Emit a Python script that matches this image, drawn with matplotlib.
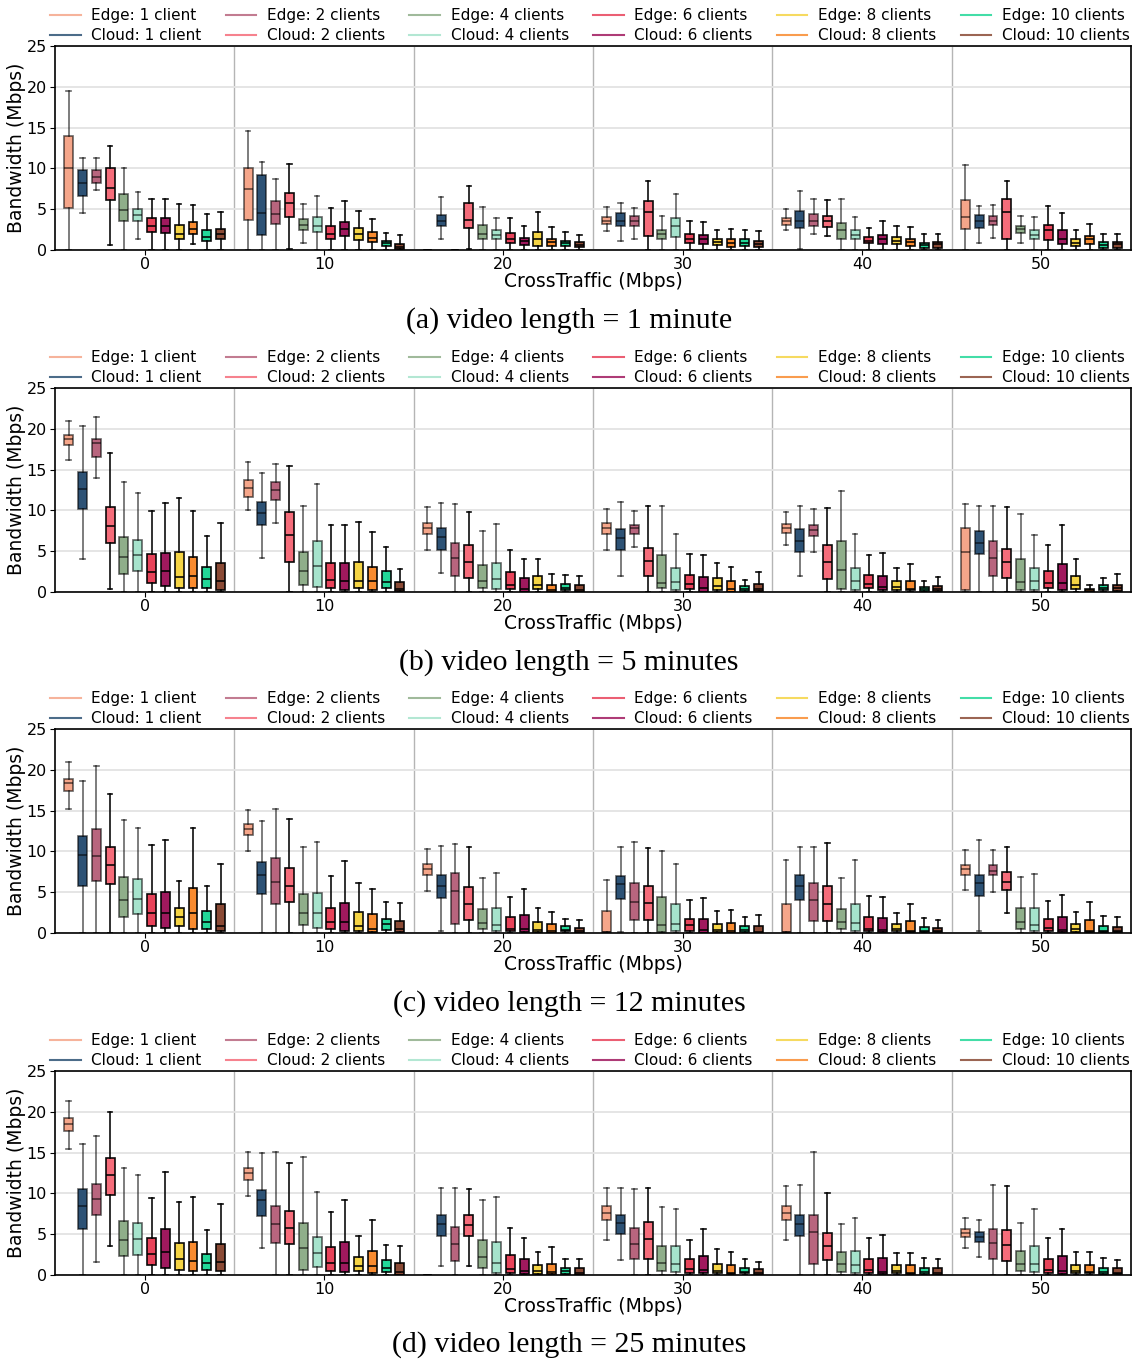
import matplotlib.pyplot as plt
from matplotlib.lines import Line2D
import numpy as np

# x categories and series
crosstraffic = [0, 10, 20, 30, 40, 50]
series = ["Edge: 1 client", "Cloud: 1 client", "Edge: 2 clients", "Cloud: 2 clients",
          "Edge: 4 clients", "Cloud: 4 clients", "Edge: 6 clients", "Cloud: 6 clients",
          "Edge: 8 clients", "Cloud: 8 clients", "Edge: 10 clients", "Cloud: 10 clients"]
colors = ["#F5A68A", "#2D5275", "#B8657E", "#F56C7A", "#8FAE8A", "#A6E3CC",
          "#E8435A", "#A0195E", "#F5D444", "#F98B2F", "#22D898", "#8A4A35"]
faded = [True, True, True, False, True, True, False, False, False, False, False, False]
captions = ["(a) video length = 1 minute", "(b) video length = 5 minutes",
            "(c) video length = 12 minutes", "(d) video length = 25 minutes"]

# box statistics: one row per cross-traffic level, one column per series
# (a) 1 minute
a_lo = [[0, 4.5, 7.3, 0.6, 0, 1.4, 0, 0, 0, 0.7, 0, 0],
        [0, 0, 0, 0.1, 0.8, 0, 0, 0, 0, 0, 0, 0],
        [0, 1.3, 0, 0.1, 0, 0, 0, 0, 0, 0, 0, 0],
        [2.3, 1.1, 1.4, 0, 0, 0, 0, 0, 0, 0, 0, 0],
        [2.4, 0.1, 2.0, 1.7, 0, 0, 0, 0, 0, 0, 0, 0],
        [0, 0.8, 1.5, 0, 0.9, 0, 0, 0, 0, 0, 0, 0]]
a_q1 = [[5.2, 6.6, 8.2, 6.1, 3.6, 3.6, 2.2, 2.1, 1.3, 1.9, 1.1, 1.3],
        [3.7, 1.8, 3.2, 4.1, 2.4, 2.2, 1.3, 1.7, 1.2, 1.0, 0.5, 0.1],
        [0, 2.9, 0, 2.7, 1.4, 1.4, 0.8, 0.6, 0.5, 0.5, 0.5, 0.4],
        [3.2, 2.9, 3.0, 1.7, 1.3, 1.6, 0.8, 0.7, 0.6, 0.4, 0.5, 0.4],
        [3.1, 2.7, 2.9, 2.8, 1.3, 1.3, 0.8, 0.7, 0.7, 0.5, 0.3, 0.3],
        [2.6, 2.7, 3.1, 1.3, 2.1, 1.3, 1.2, 0.7, 0.5, 0.7, 0.3, 0.3]]
a_med = [[10.0, 8.2, 9.0, 7.6, 4.9, 4.3, 2.9, 2.9, 2.0, 2.6, 1.6, 1.9],
         [7.5, 4.5, 4.4, 5.7, 3.1, 3.0, 1.9, 2.6, 1.9, 1.5, 0.8, 0.4],
         [0, 3.6, 0, 3.7, 2.0, 1.8, 1.3, 1.1, 1.3, 1.0, 0.8, 0.6],
         [3.6, 3.6, 3.6, 4.7, 1.9, 2.9, 1.3, 1.3, 1.0, 0.9, 0.9, 0.7],
         [3.6, 3.5, 3.6, 3.6, 2.4, 1.8, 1.1, 1.3, 1.1, 1.0, 0.6, 0.7],
         [4.1, 3.6, 3.6, 4.6, 2.6, 1.8, 2.4, 1.3, 0.9, 1.3, 0.6, 0.7]]
a_q3 = [[14.0, 9.8, 9.8, 10.1, 6.9, 5.0, 3.9, 3.9, 3.1, 3.4, 2.4, 2.6],
        [10.1, 9.2, 6.0, 7.0, 3.8, 4.0, 2.9, 3.4, 2.7, 2.2, 1.1, 0.7],
        [0, 4.3, 0, 5.8, 3.1, 2.4, 2.1, 1.5, 2.2, 1.4, 1.1, 1.0],
        [4.1, 4.5, 4.2, 6.0, 2.5, 3.9, 1.9, 1.8, 1.4, 1.3, 1.3, 1.1],
        [3.9, 4.8, 4.4, 4.2, 3.3, 2.5, 1.6, 1.8, 1.6, 1.4, 0.9, 1.0],
        [6.1, 4.3, 4.2, 6.2, 3.0, 2.4, 3.1, 2.4, 1.3, 1.7, 1.0, 1.0]]
a_hi = [[19.5, 11.3, 11.3, 12.8, 10.0, 7.1, 6.2, 6.3, 5.6, 5.5, 4.4, 4.6],
        [14.6, 10.8, 8.7, 10.6, 5.6, 6.6, 5.2, 6.0, 4.8, 3.8, 2.1, 1.8],
        [0, 6.5, 0, 7.9, 5.3, 3.9, 3.9, 2.9, 4.6, 2.8, 2.2, 1.8],
        [5.3, 5.7, 5.2, 8.4, 4.2, 6.9, 3.5, 3.4, 2.5, 2.6, 2.5, 2.3],
        [5.0, 7.2, 6.2, 6.1, 6.3, 4.0, 2.7, 3.5, 2.9, 2.8, 1.9, 2.0],
        [10.4, 5.4, 5.5, 8.4, 4.2, 4.0, 5.4, 4.5, 2.4, 3.2, 1.9, 2.0]]

# (b) 5 minutes
b_lo = [[16.2, 4.0, 14.0, 0.4, 0, 0, 0, 0, 0, 0, 0, 0],
        [10.0, 4.2, 8.5, 0, 0, 0, 0, 0, 0, 0, 0, 0],
        [5.2, 2.3, 0, 0, 0, 0, 0, 0, 0, 0, 0, 0],
        [5.2, 2.0, 5.5, 0, 0, 0, 0, 0, 0, 0, 0, 0],
        [5.8, 1.9, 4.9, 0, 0, 0, 0, 0, 0, 0, 0, 0],
        [0, 0, 0, 0, 0, 0, 0, 0, 0, 0, 0, 0]]
b_q1 = [[18.0, 10.2, 16.5, 6.0, 2.2, 2.6, 1.1, 0.7, 0.5, 0.5, 0.5, 0.3],
        [11.7, 8.2, 11.3, 3.7, 0.9, 0.6, 0.5, 0.3, 0.5, 0.3, 0.5, 0.1],
        [7.1, 5.1, 1.9, 1.7, 0.5, 0.4, 0.4, 0, 0.4, 0, 0.3, 0],
        [7.1, 5.2, 7.1, 1.9, 0.5, 0.2, 0.4, 0, 0.3, 0, 0.1, 0.1],
        [7.2, 4.9, 6.9, 1.6, 0.4, 0.3, 0.5, 0.2, 0.3, 0.2, 0.1, 0.1],
        [0.2, 4.6, 1.9, 1.7, 0.3, 0.3, 0.5, 0.2, 0.4, 0, 0.2, 0.1]]
b_med = [[18.7, 12.6, 18.2, 8.1, 4.3, 4.5, 2.5, 2.6, 1.8, 2.0, 1.6, 1.3],
         [12.7, 9.7, 12.5, 7.0, 2.6, 3.2, 1.5, 1.3, 1.4, 1.3, 1.2, 0.4],
         [7.8, 6.8, 4.2, 3.7, 1.3, 1.6, 0.8, 0.4, 0.8, 0.3, 0.5, 0.3],
         [7.8, 6.6, 7.8, 3.8, 1.1, 1.2, 1.0, 0.5, 0.7, 0.4, 0.4, 0.4],
         [7.8, 6.3, 7.6, 3.7, 2.7, 1.4, 1.0, 0.6, 0.6, 0.4, 0.4, 0.4],
         [4.9, 6.0, 4.2, 3.7, 1.2, 1.3, 1.1, 1.1, 0.8, 0.2, 0.5, 0.5]]
b_q3 = [[19.3, 14.7, 18.8, 10.4, 6.8, 6.4, 4.6, 4.8, 4.9, 4.3, 3.1, 3.6],
        [13.7, 11.0, 13.5, 9.8, 4.9, 6.2, 3.6, 3.5, 3.7, 3.1, 2.6, 1.2],
        [8.5, 7.8, 6.0, 5.7, 3.3, 3.6, 2.4, 1.7, 1.9, 0.9, 1.0, 0.8],
        [8.5, 7.7, 8.2, 5.4, 4.5, 3.0, 2.1, 1.8, 1.7, 1.3, 0.7, 1.0],
        [8.3, 7.7, 8.2, 5.7, 6.2, 3.0, 2.1, 1.9, 1.3, 1.4, 0.6, 0.7],
        [7.8, 7.5, 6.3, 5.3, 4.1, 3.0, 2.6, 3.4, 1.9, 0.4, 0.8, 0.9]]
b_hi = [[21.0, 20.4, 21.5, 17.0, 13.5, 12.1, 9.9, 10.9, 11.5, 9.9, 6.9, 8.4],
        [15.9, 14.6, 15.7, 15.4, 10.6, 13.2, 8.2, 8.2, 8.6, 7.3, 5.5, 2.8],
        [10.4, 10.9, 10.8, 9.8, 7.5, 8.3, 5.2, 4.1, 4.1, 2.2, 2.1, 1.9],
        [10.2, 11.0, 9.9, 10.5, 10.5, 7.1, 4.6, 4.5, 3.6, 3.1, 1.5, 2.5],
        [9.8, 10.6, 10.2, 10.3, 12.4, 7.1, 4.5, 4.8, 2.9, 3.4, 1.4, 1.8],
        [10.8, 10.5, 10.5, 10.4, 9.6, 7.0, 5.8, 8.2, 4.0, 0.9, 1.7, 2.2]]

# (c) 12 minutes
c_lo = [[15.2, 0, 0, 0, 0, 0, 0, 0, 0, 0, 0, 0],
        [10.1, 0, 0, 0, 0, 0, 0, 0, 0, 0, 0, 0],
        [5.2, 0.2, 0, 0, 0, 0, 0, 0, 0, 0, 0, 0],
        [0, 0.1, 0, 0, 0, 0, 0, 0, 0, 0, 0, 0],
        [0, 0, 0, 0, 0, 0, 0, 0, 0, 0, 0, 0],
        [5.3, 0.2, 5.0, 2.5, 0, 0, 0, 0, 0, 0, 0, 0]]
c_q1 = [[17.4, 5.8, 6.4, 6.0, 2.0, 2.3, 0.9, 0.6, 0.8, 0.5, 0.5, 0.2],
        [12.0, 4.8, 3.6, 3.8, 1.0, 0.6, 0.5, 0.3, 0.2, 0.1, 0.4, 0.1],
        [7.1, 4.3, 1.1, 1.6, 0.5, 0.3, 0.2, 0.1, 0.1, 0, 0.2, 0],
        [0.1, 4.2, 1.6, 1.6, 0.1, 0.3, 0.2, 0, 0.1, 0, 0.1, 0],
        [0.1, 4.0, 1.5, 1.5, 0.5, 0.2, 0.2, 0.1, 0.2, 0.1, 0.1, 0.1],
        [7.1, 4.5, 7.1, 5.3, 0.5, 0.2, 0.2, 0.1, 0.1, 0.1, 0.1, 0.1]]
c_med = [[18.4, 9.6, 9.4, 8.3, 4.0, 4.2, 2.4, 2.5, 1.9, 2.5, 1.3, 0.9],
         [12.7, 7.1, 6.3, 5.8, 2.5, 2.5, 1.4, 1.3, 0.8, 0.5, 1.1, 0.5],
         [7.8, 5.8, 5.1, 3.6, 1.2, 1.0, 0.5, 0.5, 0.4, 0.3, 0.4, 0.2],
         [0.1, 6.0, 3.8, 3.7, 1.0, 1.1, 1.0, 0.4, 0.4, 0.2, 0.4, 0.1],
         [0.1, 5.8, 4.0, 3.5, 1.3, 1.2, 0.5, 0.4, 0.5, 0.3, 0.3, 0.2],
         [7.8, 6.1, 7.6, 6.2, 1.3, 1.0, 0.6, 0.4, 0.5, 0.3, 0.2, 0.2]]
c_q3 = [[18.9, 11.9, 12.8, 10.5, 6.9, 6.6, 4.8, 5.0, 3.1, 5.5, 2.7, 3.5],
        [13.3, 8.7, 9.2, 8.0, 4.8, 4.9, 3.1, 3.7, 2.6, 2.3, 1.7, 1.5],
        [8.4, 7.1, 7.4, 5.6, 3.0, 3.1, 1.9, 2.2, 1.3, 1.1, 0.8, 0.6],
        [2.7, 7.0, 6.1, 5.8, 4.4, 3.6, 1.7, 1.7, 1.1, 1.2, 0.8, 0.9],
        [3.6, 7.1, 6.1, 5.7, 3.0, 3.6, 1.9, 1.8, 1.1, 1.5, 0.7, 0.6],
        [8.3, 7.1, 8.3, 7.5, 3.1, 3.1, 1.7, 1.9, 1.1, 1.6, 0.9, 0.7]]
c_hi = [[21.0, 18.6, 20.5, 17.0, 13.8, 12.9, 10.8, 11.4, 6.4, 12.9, 5.8, 8.4],
        [15.1, 13.7, 15.2, 14.0, 10.5, 11.1, 7.0, 8.8, 6.1, 5.4, 3.8, 3.7],
        [10.3, 10.7, 10.9, 10.5, 6.8, 7.3, 4.4, 5.4, 3.1, 2.6, 1.7, 1.6],
        [6.5, 10.5, 11.1, 10.4, 10.1, 8.4, 4.0, 4.3, 2.7, 2.8, 1.9, 2.2],
        [8.9, 10.6, 10.6, 11.0, 6.7, 8.9, 4.5, 4.4, 2.5, 3.6, 1.8, 1.6],
        [10.2, 11.4, 10.2, 10.6, 6.9, 7.2, 3.9, 4.6, 2.6, 3.8, 2.1, 1.9]]

# (d) 25 minutes
d_lo = [[15.4, 0, 1.6, 3.5, 0, 0, 0, 0, 0, 0, 0, 0],
        [9.7, 3.3, 0, 0, 0, 0, 0, 0, 0, 0, 0, 0],
        [0, 1.1, 0, 1.1, 0, 0, 0, 0, 0, 0, 0, 0],
        [4.3, 1.8, 0, 0, 0, 0, 0, 0, 0, 0, 0, 0],
        [4.3, 0, 0, 0, 0, 0, 0, 0, 0, 0, 0, 0],
        [3.3, 2.2, 0, 0, 0, 0, 0, 0, 0, 0, 0, 0]]
d_q1 = [[17.7, 5.6, 7.3, 9.8, 2.3, 2.5, 1.2, 0.9, 0.6, 0.5, 0.6, 0.5],
        [11.7, 7.2, 3.9, 3.8, 0.6, 1.0, 0.5, 0.4, 0.5, 0.3, 0.4, 0],
        [0, 4.8, 1.7, 4.8, 0.9, 0.3, 0.2, 0.1, 0.1, 0.1, 0.1, 0],
        [6.8, 5.0, 1.9, 1.9, 0.5, 0.4, 0.3, 0.2, 0.2, 0.1, 0.2, 0],
        [6.8, 4.8, 1.4, 1.8, 0.4, 0.3, 0.2, 0.1, 0.2, 0.1, 0.1, 0],
        [4.7, 4.0, 1.9, 1.7, 0.5, 0.4, 0.2, 0.1, 0.2, 0.2, 0.1, 0.1]]
d_med = [[18.5, 8.5, 9.3, 12.2, 4.3, 4.4, 2.6, 2.8, 2.0, 1.7, 1.5, 1.6],
         [12.5, 9.2, 6.2, 5.7, 3.3, 2.7, 1.5, 1.5, 1.1, 1.1, 0.8, 0.4],
         [0, 6.2, 3.8, 6.1, 2.2, 1.5, 0.7, 0.5, 0.5, 0.4, 0.5, 0.2],
         [7.6, 6.4, 3.8, 4.4, 1.5, 1.4, 0.7, 0.6, 0.5, 0.3, 0.4, 0.2],
         [7.6, 6.2, 5.3, 3.5, 1.3, 1.2, 0.6, 0.4, 0.5, 0.3, 0.4, 0.2],
         [5.2, 4.7, 3.9, 3.7, 1.4, 1.4, 0.6, 0.5, 0.5, 0.4, 0.4, 0.3]]
d_q3 = [[19.2, 10.6, 11.2, 14.3, 6.6, 6.4, 4.5, 5.6, 3.9, 4.1, 2.6, 3.8],
        [13.1, 10.4, 8.5, 7.8, 6.4, 4.7, 3.4, 4.0, 2.2, 2.9, 1.8, 1.5],
        [0, 7.4, 5.9, 7.4, 4.3, 4.0, 2.5, 1.9, 1.2, 1.4, 0.9, 0.8],
        [8.4, 7.4, 5.7, 6.5, 3.6, 3.5, 1.9, 2.3, 1.3, 1.2, 0.9, 0.7],
        [8.4, 7.4, 7.3, 5.1, 2.8, 3.0, 2.0, 2.1, 1.2, 1.2, 0.9, 0.8],
        [5.6, 5.3, 5.6, 5.5, 2.9, 3.5, 2.0, 2.3, 1.2, 1.2, 0.9, 0.8]]
d_hi = [[21.3, 16.1, 17.0, 20.0, 13.1, 12.2, 9.4, 12.6, 9.0, 9.5, 5.5, 8.7],
        [15.1, 14.9, 15.1, 13.7, 14.4, 10.2, 7.7, 9.2, 4.8, 6.7, 3.7, 3.6],
        [0, 10.7, 10.7, 10.5, 9.2, 9.5, 5.8, 4.5, 2.8, 3.4, 1.9, 1.9],
        [10.7, 10.7, 10.5, 10.7, 8.3, 8.1, 4.3, 5.6, 3.2, 2.8, 2.0, 1.6],
        [10.9, 11.0, 15.1, 10.0, 6.3, 7.0, 4.5, 4.9, 2.7, 2.7, 2.1, 2.0],
        [7.0, 6.8, 11.0, 10.9, 6.4, 8.1, 4.5, 5.6, 2.8, 2.8, 2.1, 1.8]]

panels = [(a_lo, a_q1, a_med, a_q3, a_hi),
          (b_lo, b_q1, b_med, b_q3, b_hi),
          (c_lo, c_q1, c_med, c_q3, c_hi),
          (d_lo, d_q1, d_med, d_q3, d_hi)]

W, H = 1138, 1363
fig = plt.figure(figsize=(W / 100, H / 100), dpi=100)

axes_bottom_px = [250, 592, 933, 1275]
caption_px = [321, 663, 1004, 1345]
ax_left, ax_right = 55, 1131
ax_h = 204
spacing = 0.077
box_w = 0.05

for p, (lo, q1, med, q3, hi) in enumerate(panels):
    ax = fig.add_axes([ax_left / W, 1 - axes_bottom_px[p] / H,
                       (ax_right - ax_left) / W, ax_h / H])
    ax.set_axisbelow(True)
    ax.yaxis.grid(True, color="#e3e3e3", lw=1.3)
    for b in np.arange(0.5, 5, 1.0):
        ax.axvline(b, color="#b5b5b5", lw=1.0, zorder=0)

    for i in range(len(series)):
        stats = []
        for g in range(len(crosstraffic)):
            stats.append(dict(whislo=lo[g][i], q1=q1[g][i], med=med[g][i],
                              q3=q3[g][i], whishi=hi[g][i], fliers=[]))
        pos = np.arange(len(crosstraffic)) + (i - 5.5) * spacing
        lc = (0, 0, 0, 0.6) if faded[i] else (0, 0, 0, 0.95)
        ax.bxp(stats, positions=pos, widths=box_w, capwidths=box_w * 0.5,
               patch_artist=True, showfliers=False, manage_ticks=False,
               boxprops=dict(facecolor=colors[i], edgecolor=lc, linewidth=1.2),
               whiskerprops=dict(color=lc, linewidth=1.2),
               capprops=dict(color=lc, linewidth=1.2),
               medianprops=dict(color=lc, linewidth=1.2))

    ax.set_xlim(-0.5, 5.5)
    ax.set_ylim(0, 25)
    ax.set_yticks([0, 5, 10, 15, 20, 25])
    ax.set_xticks(range(len(crosstraffic)))
    ax.set_xticklabels(crosstraffic)
    ax.tick_params(labelsize=11.5)
    ax.tick_params(axis="x", pad=1.5)
    ax.tick_params(axis="y", pad=2.5)
    ax.set_xlabel("CrossTraffic (Mbps)", fontsize=13.5, labelpad=0)
    ax.set_ylabel("Bandwidth (Mbps)", fontsize=13.5, labelpad=0.5)
    for s in ax.spines.values():
        s.set_linewidth(1.2)

    handles = [Line2D([0], [0], color=c, lw=1.5, alpha=0.85) for c in colors]
    ax.legend(handles, series, ncol=6, loc="lower left",
              bbox_to_anchor=(-8 / 1076, 1.0, 1.009, 0.0), mode="expand",
              frameon=False, fontsize=11, handlelength=2.0, handletextpad=0.7,
              borderaxespad=0.1, borderpad=0.1, labelspacing=0.3)

    fig.text(0.5, 1 - caption_px[p] / H, captions[p], ha="center", va="center",
             fontsize=21.5, family="Liberation Serif")

fig.savefig("out.png", dpi=100)
